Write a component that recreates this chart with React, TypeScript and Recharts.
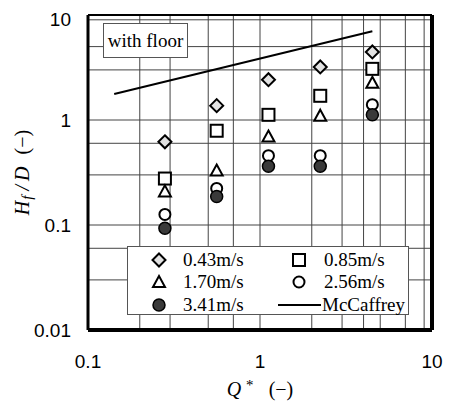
import { CartesianGrid, ReferenceLine, Scatter, ScatterChart, XAxis, YAxis } from 'recharts'

// Q* values (x) shared by every velocity series
const Q_STAR = [0.28, 0.56, 1.12, 2.24, 4.5]

// Hf/D per inflow velocity
const HF_043 = [0.62, 1.37, 2.42, 3.2, 4.45]
const HF_085 = [0.277, 0.79, 1.12, 1.7, 3.07]
const HF_170 = [0.209, 0.33, 0.695, 1.1, 2.26]
const HF_256 = [0.126, 0.223, 0.457, 0.457, 1.4]
const HF_341 = [0.093, 0.187, 0.363, 0.363, 1.12]

// McCaffrey correlation, two end points (straight on log-log)
const MCCAFFREY_Q = [0.142, 4.5]
const MCCAFFREY_HF = [1.77, 7.0]

const X_TICKS = [0.1, 1, 10]
const Y_TICKS = [0.01, 0.1, 1, 10]
const X_DECADES = [0.1, 1]
const Y_DECADES = [0.01, 0.1, 1]
const MULTIPLIERS = [2, 3, 4, 5, 6, 7, 8, 9]

const SERIF = '"Liberation Serif", "Times New Roman", serif'
const SANS = '"Liberation Sans", Arial, sans-serif'
const DASH = '(\u2212)'

const minorValues = (decades: number[]) =>
  decades.flatMap((d) => [d, ...MULTIPLIERS.map((m) => +(d * m).toPrecision(3))])

const toPoints = (ys: number[]) => Q_STAR.map((q, i) => ({ q, h: ys[i] }))
const mccaffrey = MCCAFFREY_Q.map((q, i) => ({ q, h: MCCAFFREY_HF[i] }))

type ShapeProps = { cx?: number; cy?: number }

const Diamond = ({ cx = 0, cy = 0 }: ShapeProps) => (
  <path
    d={`M${cx},${cy - 6.5} L${cx + 6.5},${cy} L${cx},${cy + 6.5} L${cx - 6.5},${cy} Z`}
    fill="#e2e2e2"
    stroke="#000"
    strokeWidth={2}
  />
)
const Square = ({ cx = 0, cy = 0 }: ShapeProps) => (
  <rect x={cx - 6} y={cy - 6} width={12} height={12} fill="#fff" stroke="#000" strokeWidth={2} />
)
const Triangle = ({ cx = 0, cy = 0 }: ShapeProps) => (
  <path
    d={`M${cx},${cy - 6} L${cx + 6},${cy + 5} L${cx - 6},${cy + 5} Z`}
    fill="#fff"
    stroke="#000"
    strokeWidth={2}
  />
)
const OpenCircle = ({ cx = 0, cy = 0 }: ShapeProps) => (
  <circle cx={cx} cy={cy} r={5.5} fill="#fff" stroke="#000" strokeWidth={2} />
)
const FilledCircle = ({ cx = 0, cy = 0 }: ShapeProps) => (
  <circle cx={cx} cy={cy} r={6} fill="#3a3a3a" stroke="#000" strokeWidth={1.5} />
)

function XLabel(props: any) {
  const { x, y, width } = props.viewBox
  return (
    <text x={x + width / 2} y={y + 66} textAnchor="middle" fontFamily={SERIF} fontSize={20} fontStyle="italic">
      Q<tspan dx={4} dy={-6} fontSize={15}>*</tspan>
      <tspan dx={16} dy={6} fontStyle="normal">{DASH}</tspan>
    </text>
  )
}

function YLabel(props: any) {
  const { y, height } = props.viewBox
  const cx = 14
  const cy = y + height / 2
  return (
    <text
      x={cx}
      y={cy}
      transform={`rotate(-90 ${cx} ${cy})`}
      textAnchor="middle"
      dominantBaseline="central"
      fontFamily={SERIF}
      fontSize={20}
      fontStyle="italic"
    >
      H<tspan dx={1} dy={5} fontSize={15}>f</tspan>
      <tspan dx={5} dy={-5}>/</tspan>
      <tspan dx={4}>D</tspan>
      <tspan dx={12} fontStyle="normal">{DASH}</tspan>
    </text>
  )
}

const legendIcon = (shape: JSX.Element) => (
  <svg width={16} height={16} style={{ position: 'absolute' }}>
    {shape}
  </svg>
)

const LEGEND_ITEMS = [
  { label: '0.43m/s', icon: <Diamond cx={8} cy={8} />, col: 0, row: 0 },
  { label: '0.85m/s', icon: <Square cx={8} cy={8} />, col: 1, row: 0 },
  { label: '1.70m/s', icon: <Triangle cx={8} cy={8} />, col: 0, row: 1 },
  { label: '2.56m/s', icon: <OpenCircle cx={8} cy={8} />, col: 1, row: 1 },
  { label: '3.41m/s', icon: <FilledCircle cx={8} cy={8} />, col: 0, row: 2 },
]

function ChartLegend() {
  const rowY = [13, 35, 58]
  const iconX = [31, 171]
  const textX = [55, 196]
  return (
    <div
      style={{
        position: 'absolute',
        left: 119,
        top: 238,
        width: 280,
        height: 67,
        background: '#fff',
        border: '1px solid #555',
        fontFamily: SERIF,
        fontSize: 19,
      }}
    >
      {LEGEND_ITEMS.map((item) => (
        <div key={item.label}>
          <div style={{ position: 'absolute', left: iconX[item.col] - 8, top: rowY[item.row] - 8 }}>
            {legendIcon(item.icon)}
          </div>
          <div style={{ position: 'absolute', left: textX[item.col], top: rowY[item.row] - 11, lineHeight: '22px' }}>
            {item.label}
          </div>
        </div>
      ))}
      <div style={{ position: 'absolute', left: 150, top: rowY[2] - 1, width: 43, height: 2, background: '#000' }} />
      <div style={{ position: 'absolute', left: 194, top: rowY[2] - 11, lineHeight: '22px' }}>McCaffrey</div>
    </div>
  )
}

export default function App() {
  return (
    <div style={{ position: 'relative', width: 444, height: 399 }}>
      <ScatterChart width={444} height={399} margin={{ top: 7, right: 20, left: 0, bottom: 0 }}>
        <CartesianGrid
          stroke="#444"
          strokeWidth={1}
          horizontalValues={minorValues(Y_DECADES)}
          verticalValues={minorValues(X_DECADES)}
        />
        <XAxis
          type="number"
          dataKey="q"
          scale="log"
          domain={[0.1, 10]}
          allowDataOverflow
          ticks={X_TICKS}
          tickFormatter={(v) => String(v)}
          tickLine={false}
          axisLine={false}
          tickMargin={19}
          height={77}
          tick={{ fontFamily: SANS, fontSize: 19, fill: '#000' }}
          label={{ content: XLabel }}
        />
        <YAxis
          type="number"
          dataKey="h"
          scale="log"
          domain={[0.01, 10]}
          allowDataOverflow
          ticks={Y_TICKS}
          tickFormatter={(v) => String(v)}
          tickLine={false}
          axisLine={false}
          tickMargin={11}
          width={80}
          tick={{ fontFamily: SANS, fontSize: 19, fill: '#000' }}
          label={{ content: YLabel }}
        />
        <ReferenceLine x={0.1} stroke="#000" strokeWidth={3} />
        <ReferenceLine x={10} stroke="#000" strokeWidth={4} />
        <ReferenceLine y={0.01} stroke="#000" strokeWidth={4} />
        <ReferenceLine y={10} stroke="#000" strokeWidth={2} />
        <Scatter
          data={mccaffrey}
          line={{ stroke: '#000', strokeWidth: 2 }}
          shape={() => <g />}
          isAnimationActive={false}
        />
        <Scatter data={toPoints(HF_043)} shape={Diamond} isAnimationActive={false} />
        <Scatter data={toPoints(HF_085)} shape={Square} isAnimationActive={false} />
        <Scatter data={toPoints(HF_170)} shape={Triangle} isAnimationActive={false} />
        <Scatter data={toPoints(HF_256)} shape={OpenCircle} isAnimationActive={false} />
        <Scatter data={toPoints(HF_341)} shape={FilledCircle} isAnimationActive={false} />
      </ScatterChart>
      <div
        style={{
          position: 'absolute',
          left: 95,
          top: 15,
          width: 83,
          height: 33,
          background: '#fff',
          border: '1px solid #555',
          fontFamily: SERIF,
          fontSize: 19,
          lineHeight: '33px',
          textAlign: 'center',
        }}
      >
        with floor
      </div>
      <ChartLegend />
    </div>
  )
}
